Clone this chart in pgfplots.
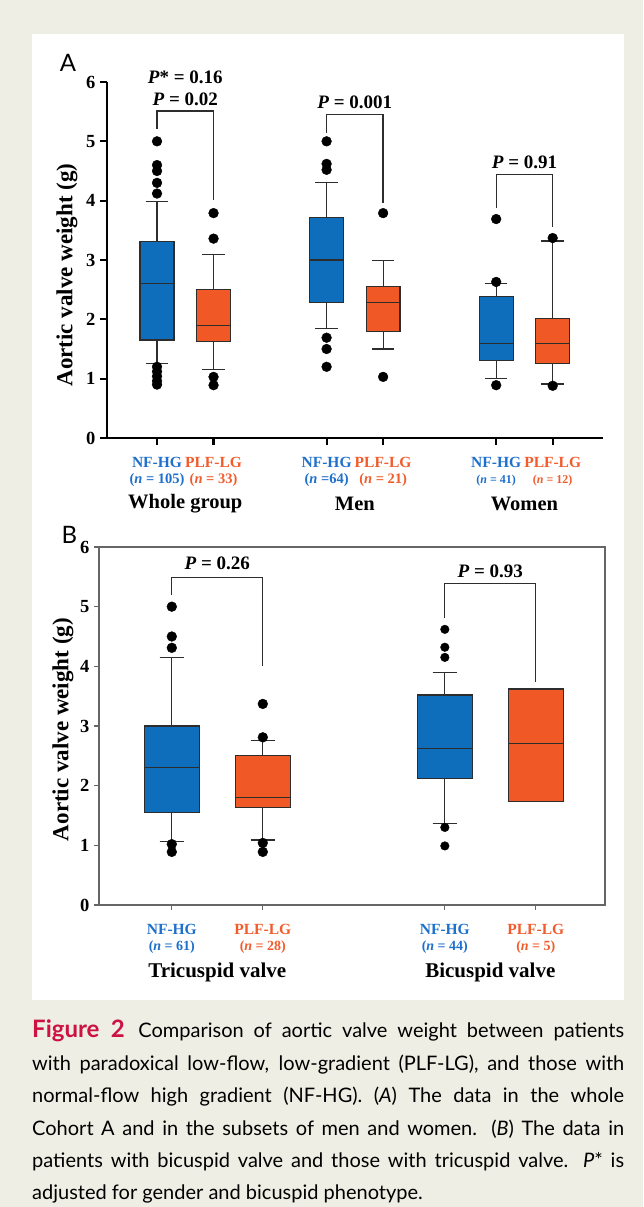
\documentclass[border=0pt]{standalone}
\usepackage{pgfplots}
\pgfplotsset{compat=1.18}
\usepgfplotslibrary{statistics}
\usepackage{fontspec}
\setmainfont{Liberation Serif}
\newfontfamily\capfont{Lato}
\newfontfamily\panelfont{Lato}
\definecolor{bg}{RGB}{239,238,228}
\definecolor{boxblue}{RGB}{14,110,188}
\definecolor{boxorange}{RGB}{240,88,38}
\definecolor{txtblue}{RGB}{30,112,204}
\definecolor{txtorange}{RGB}{242,92,44}
\definecolor{figred}{RGB}{204,18,66}
\definecolor{edge}{RGB}{45,45,45}
\newcommand{\fs}[1]{\fontsize{#1}{#1}\selectfont}
\newcommand{\nb}[2]{\textcolor{txtblue}{NF-HG}\\\fs{#1}\textcolor{txtblue}{(\textit{n} #2)}}
\newcommand{\no}[2]{\textcolor{txtorange}{PLF-LG}\\\fs{#1}\textcolor{txtorange}{(\textit{n} #2)}}

\pgfplotsset{
  boxplot/draw direction=y,
  bxblue/.style={draw=edge, fill=boxblue, line width=1.2pt},
  bxorange/.style={draw=edge, fill=boxorange, line width=1.2pt},
  outl/.style={only marks, mark=*, mark size=4.9pt, black},
  brk/.style={draw=edge, line width=1.3pt},
}

\begin{document}
\begin{tikzpicture}[x=1pt,y=1pt]
\fill[bg] (0pt,0pt) rectangle (643pt,1207pt);
\fill[white] (32pt,207pt) rectangle (624pt,1173pt);

% ---------------- Panel A ----------------
\begin{axis}[
  at={(107pt,769pt)}, anchor=south west,
  scale only axis, width=496pt, height=356pt,
  xmin=-0.885, xmax=7.89, ymin=0, ymax=6,
  axis x line*=bottom, axis y line*=left,
  axis line style={line width=2.6pt, -},
  tick align=outside, major tick length=7pt,
  major tick style={line width=2.2pt, black},
  ytick={0,1,2,3,4,5,6},
  xtick={0,1,3,4,6,7},
  xticklabels={
    {\nb{14.5}{= 105}}, {\no{14.5}{= 33}},
    {\nb{14.5}{=64}}, {\no{14.5}{= 21}},
    {\nb{12}{= 41}}, {\no{12}{= 12}}},
  xticklabel style={align=center, font=\fs{15.5}\bfseries, yshift=-9pt},
  yticklabel style={font=\fs{18.5}\bfseries, xshift=-1pt},
  /pgf/number format/assume math mode=true,
  every axis y label/.style={at={(axis description cs:-0.0806,0.458)}, rotate=90, anchor=center, font=\fs{23}\bfseries},
  ylabel={Aortic valve weight (g)},
  clip=false,
]
\addplot[bxblue, boxplot prepared={draw position=0, median=2.60, upper quartile=3.31, lower quartile=1.65, upper whisker=3.98, lower whisker=1.25, box extend=0.6, whisker extend=0.4}] coordinates {};
\addplot[bxorange, boxplot prepared={draw position=1, median=1.89, upper quartile=2.50, lower quartile=1.62, upper whisker=3.09, lower whisker=1.15, box extend=0.6, whisker extend=0.4}] coordinates {};
\addplot[bxblue, boxplot prepared={draw position=3, median=3.00, upper quartile=3.71, lower quartile=2.29, upper whisker=4.30, lower whisker=1.84, box extend=0.6, whisker extend=0.4}] coordinates {};
\addplot[bxorange, boxplot prepared={draw position=4, median=2.29, upper quartile=2.55, lower quartile=1.80, upper whisker=2.99, lower whisker=1.50, box extend=0.6, whisker extend=0.4}] coordinates {};
\addplot[bxblue, boxplot prepared={draw position=6, median=1.59, upper quartile=2.39, lower quartile=1.30, upper whisker=2.60, lower whisker=1.00, box extend=0.6, whisker extend=0.4}] coordinates {};
\addplot[bxorange, boxplot prepared={draw position=7, median=1.59, upper quartile=2.02, lower quartile=1.25, upper whisker=3.32, lower whisker=0.91, box extend=0.6, whisker extend=0.4}] coordinates {};
% outliers
\addplot[outl] coordinates {(0,5.0)(0,4.6)(0,4.5)(0,4.3)(0,4.12)(0,1.2)(0,1.12)(0,1.04)(0,0.96)(0,0.9)};
\addplot[outl] coordinates {(1,3.79)(1,3.36)(1,1.03)(1,0.89)};
\addplot[outl] coordinates {(3,5.0)(3,4.62)(3,4.52)(3,1.69)(3,1.5)(3,1.2)};
\addplot[outl] coordinates {(4,3.79)(4,1.03)};
\addplot[outl] coordinates {(6,3.69)(6,2.63)(6,0.89)};
\addplot[outl] coordinates {(7,3.37)(7,0.88)};
% brackets
\addplot[brk] coordinates {(0,5.21)(0,5.51)(1,5.51)(1,4.01)};
\addplot[brk] coordinates {(3,5.14)(3,5.45)(4,5.45)(4,3.96)};
\addplot[brk] coordinates {(6,3.88)(6,4.44)(7,4.44)(7,3.56)};
\node[font=\fs{19}\bfseries] at (axis cs:0.5,6.08) {\textit{P}* = 0.16};
\node[font=\fs{19}\bfseries] at (axis cs:0.5,5.71) {\textit{P} = 0.02};
\node[font=\fs{19}\bfseries] at (axis cs:3.5,5.65) {\textit{P} = 0.001};
\node[font=\fs{19}\bfseries] at (axis cs:6.5,4.64) {\textit{P} = 0.91};
\node[font=\fs{20.5}\bfseries] at (axis cs:0.5,0) [yshift=-66pt] {Whole group};
\node[font=\fs{20.5}\bfseries] at (axis cs:3.5,0) [yshift=-66pt] {Men};
\node[font=\fs{20.5}\bfseries] at (axis cs:6.5,0) [yshift=-66pt] {Women};
\end{axis}
\node[font=\panelfont\fs{24}] at (68pt,1144pt) {A};

% ---------------- Panel B ----------------
\begin{axis}[
  at={(99pt,302pt)}, anchor=south west,
  scale only axis, width=506pt, height=358pt,
  xmin=-0.80, xmax=4.76, ymin=0, ymax=6,
  axis line style={line width=1.1pt, draw=black!60},
  xtick pos=bottom, ytick pos=left,
  tick align=outside, major tick length=5pt,
  major tick style={line width=1.1pt, black!60},
  ytick={0,1,2,3,4,5,6},
  xtick={0,1,3,4},
  xticklabels={
    {\nb{14}{= 61}}, {\no{14}{= 28}},
    {\nb{14}{= 44}}, {\no{14}{= 5}}},
  xticklabel style={align=center, font=\fs{15.5}\bfseries, yshift=-11pt},
  yticklabel style={font=\fs{18.5}\bfseries, xshift=-1pt},
  /pgf/number format/assume math mode=true,
  every axis y label/.style={at={(axis description cs:-0.0711,0.490)}, rotate=90, anchor=center, font=\fs{23}\bfseries},
  ylabel={Aortic valve weight (g)},
  clip=false,
]
\addplot[bxblue, boxplot prepared={draw position=0, median=2.30, upper quartile=3.00, lower quartile=1.55, upper whisker=4.15, lower whisker=1.07, box extend=0.6, whisker extend=0.27}] coordinates {};
\addplot[bxorange, boxplot prepared={draw position=1, median=1.80, upper quartile=2.50, lower quartile=1.63, upper whisker=2.76, lower whisker=1.09, box extend=0.6, whisker extend=0.27}] coordinates {};
\addplot[bxblue, boxplot prepared={draw position=3, median=2.62, upper quartile=3.52, lower quartile=2.12, upper whisker=3.90, lower whisker=1.37, box extend=0.6, whisker extend=0.27}] coordinates {};
\addplot[bxorange, boxplot prepared={draw position=4, median=2.71, upper quartile=3.62, lower quartile=1.73, upper whisker=3.62, lower whisker=1.73, box extend=0.6, whisker extend=0.27}] coordinates {};
\addplot[outl] coordinates {(0,5.0)(0,4.5)(0,4.31)(0,1.02)(0,0.89)};
\addplot[outl] coordinates {(1,3.37)(1,2.81)(1,1.04)(1,0.89)};
\addplot[outl, mark size=4.3pt] coordinates {(3,4.62)(3,4.32)(3,4.15)(3,1.30)(3,0.99)};
\addplot[brk] coordinates {(0,5.20)(0,5.49)(1,5.49)(1,4.00)};
\addplot[brk] coordinates {(3,4.81)(3,5.39)(4,5.39)(4,3.73)};
\node[font=\fs{19}\bfseries] at (axis cs:0.5,5.73) {\textit{P} = 0.26};
\node[font=\fs{19}\bfseries] at (axis cs:3.5,5.60) {\textit{P} = 0.93};
\node[font=\fs{21}\bfseries] at (axis cs:0.5,0) [yshift=-67pt] {Tricuspid valve};
\node[font=\fs{21}\bfseries] at (axis cs:3.5,0) [yshift=-67pt] {Bicuspid valve};
\end{axis}
\node[font=\panelfont\fs{24}] at (69.5pt,672pt) {B};

% ---------------- Caption ----------------
\node[anchor=base west, inner sep=0pt] at (32pt,169pt) {\capfont\fs{20}\baselineskip=32.4pt
\vtop{%
\hbox to 592pt{{\bfseries\fs{24}\color{figred}Figure 2}\hskip 10pt plus 2pt Comparison of aortic valve weight between patients}
\hbox to 592pt{with paradoxical low-flow, low-gradient (PLF-LG), and those with}
\hbox to 592pt{normal-flow high gradient (NF-HG). (\textit{A}) The data in the whole}
\hbox to 592pt{Cohort A and in the subsets of men and women. (\textit{B}) The data in}
\hbox to 592pt{patients with bicuspid valve and those with tricuspid valve. \textit{P}* is}
\hbox{adjusted for gender and bicuspid phenotype.}}};
\end{tikzpicture}
\end{document}
